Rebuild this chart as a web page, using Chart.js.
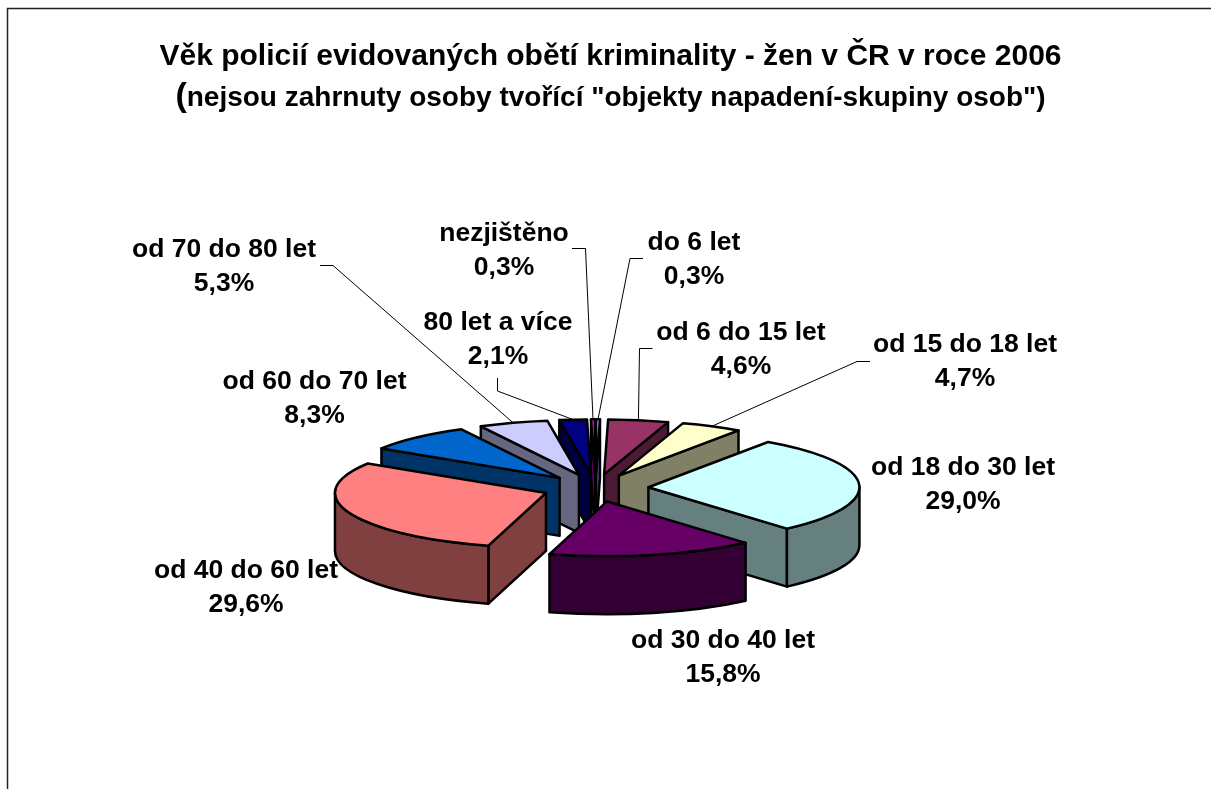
<!DOCTYPE html>
<html>
<head>
<meta charset="utf-8">
<style>
  html, body { margin: 0; padding: 0; background: #fff; overflow: hidden; }
  #wrap { position: relative; width: 1211px; height: 789px; }
</style>
<script src="https://cdn.jsdelivr.net/npm/chart.js@4/dist/chart.umd.min.js"></script>
</head>
<body>
<div id="wrap"><canvas id="chart"></canvas></div>
<script>
const categories = ["do 6 let", "od 6 do 15 let", "od 15 do 18 let", "od 18 do 30 let", "od 30 do 40 let",
  "od 40 do 60 let", "od 60 do 70 let", "od 70 do 80 let", "80 let a více", "nezjištěno"]
const shares = [0.3, 4.6, 4.7, 29.0, 15.8, 29.6, 8.3, 5.3, 2.1, 0.3]
const topColors = ["#9999FF", "#993366", "#FFFFCC", "#CCFFFF", "#660066", "#FF8080", "#0066CC", "#CCCCFF", "#000080", "#FF00FF"]
const wallColors = ["#4D4D80", "#4D1A33", "#808066", "#668080", "#330033", "#804040", "#003366", "#666680", "#000040", "#800080"]

const titleLine1 = "Věk policií evidovaných obětí kriminality - žen v ČR v roce 2006"
const titleLine2 = "nejsou zahrnuty osoby tvořící \"objekty napadení-skupiny osob\")"

// label centre x / first line baseline, then the leader's two fixed points (null = no leader)
const labelX = [694, 741, 965, 963, 723, 246, 314.5, 224, 498, 504]
const labelY = [250, 340, 352, 475, 648, 578, 389, 257, 330, 241]
const leaders = [
  [[643, 258.5], [630, 258.5]],
  [[652.5, 348.5], [639.5, 348.5]],
  [[870, 361.5], [857, 361.5]],
  null, null, null, null,
  [[320, 265.5], [333, 265.5]],
  [[497.5, 378], [497.5, 391]],
  [[572, 248.5], [585.5, 248.5]]
]

const tilt = 0.26
const depth = 58

const FONT = '"Liberation Sans", Arial, sans-serif'

function drawSlice(ctx, el, wall) {
  const { x, y, startAngle: a1, endAngle: a2, outerRadius: R } = el
  const off = el.options.offset
  const mid = (a1 + a2) / 2
  const ox = x + Math.cos(mid) * off
  const oy = y + Math.sin(mid) * off * tilt
  const ry = R * tilt

  ctx.save()
  ctx.lineWidth = el.options.borderWidth
  ctx.strokeStyle = el.options.borderColor
  ctx.lineJoin = "round"

  const radialWall = a => {
    const px = ox + R * Math.cos(a)
    const py = oy + ry * Math.sin(a)
    ctx.beginPath()
    ctx.moveTo(ox, oy)
    ctx.lineTo(px, py)
    ctx.lineTo(px, py + depth)
    ctx.lineTo(ox, oy + depth)
    ctx.closePath()
    ctx.fillStyle = wall
    ctx.fill()
    ctx.stroke()
  }
  if (Math.cos(a1) < 0) radialWall(a1)
  if (Math.cos(a2) > 0) radialWall(a2)

  // outer rim, only the part that faces the viewer
  const from = Math.max(a1, 0)
  const to = Math.min(a2, Math.PI)
  if (from < to) {
    ctx.beginPath()
    ctx.ellipse(ox, oy, R, ry, 0, from, to)
    ctx.ellipse(ox, oy + depth, R, ry, 0, to, from, true)
    ctx.closePath()
    ctx.fillStyle = wall
    ctx.fill()
    ctx.stroke()
  }

  ctx.beginPath()
  ctx.moveTo(ox, oy)
  ctx.ellipse(ox, oy, R, ry, 0, a1, a2)
  ctx.closePath()
  ctx.fillStyle = el.options.backgroundColor
  ctx.fill()
  ctx.stroke()
  ctx.restore()
}

const tiltedPie = {
  id: "tiltedPie",
  beforeDatasetDraw(chart, args) {
    const ctx = chart.ctx
    const arcs = chart.getDatasetMeta(args.index).data
    const order = arcs.map((el, i) => i)
      .sort((p, q) => Math.sin((arcs[p].startAngle + arcs[p].endAngle) / 2) - Math.sin((arcs[q].startAngle + arcs[q].endAngle) / 2))
    order.forEach(i => drawSlice(ctx, arcs[i], wallColors[i]))
    return false
  },
  afterDraw(chart) {
    const ctx = chart.ctx
    const arcs = chart.getDatasetMeta(0).data
    ctx.save()

    // frame, cut off on the right and at the bottom
    ctx.strokeStyle = "#222"
    ctx.lineWidth = 1.5
    ctx.beginPath()
    ctx.moveTo(7.5, 789)
    ctx.lineTo(7.5, 8.5)
    ctx.lineTo(1211, 8.5)
    ctx.stroke()

    // leaders
    ctx.strokeStyle = "#000"
    ctx.lineWidth = 1
    leaders.forEach((pts, i) => {
      if (!pts) return
      const el = arcs[i]
      const mid = (el.startAngle + el.endAngle) / 2
      const r = el.outerRadius + el.options.offset
      ctx.beginPath()
      ctx.moveTo(pts[0][0], pts[0][1])
      ctx.lineTo(pts[1][0], pts[1][1])
      ctx.lineTo(el.x + Math.cos(mid) * r, el.y + Math.sin(mid) * r * tilt)
      ctx.stroke()
    })

    // data labels
    ctx.fillStyle = "#000"
    ctx.textAlign = "center"
    ctx.textBaseline = "alphabetic"
    ctx.font = "bold 26.5px " + FONT
    categories.forEach((name, i) => {
      ctx.fillText(name, labelX[i], labelY[i])
      ctx.fillText(shares[i].toFixed(1).replace(".", ",") + "%", labelX[i], labelY[i] + 34)
    })

    // title
    ctx.font = "bold 30px " + FONT
    ctx.fillText(titleLine1, 610.5, 65)
    ctx.textAlign = "left"
    ctx.font = "bold 28px " + FONT
    const restW = ctx.measureText(titleLine2).width
    ctx.font = "bold 34px " + FONT
    const parenW = ctx.measureText("(").width
    const startX = 610.5 - (parenW + restW) / 2
    ctx.fillText("(", startX, 105.5)
    ctx.font = "bold 28px " + FONT
    ctx.fillText(titleLine2, startX + parenW, 105.5)
    ctx.restore()
  }
}

new Chart(document.getElementById("chart"), {
  type: "pie",
  data: {
    labels: categories,
    datasets: [{
      data: shares,
      backgroundColor: topColors,
      borderColor: "#000",
      borderWidth: 2.5,
      offset: 53,
      hoverOffset: 0
    }]
  },
  plugins: [tiltedPie],
  options: {
    responsive: true,
    maintainAspectRatio: false,
    animation: false,
    radius: 211,
    layout: { padding: { left: 0, right: 20, top: 187, bottom: 0 } },
    plugins: { legend: { display: false }, tooltip: { enabled: false } }
  }
})
</script>
</body>
</html>
